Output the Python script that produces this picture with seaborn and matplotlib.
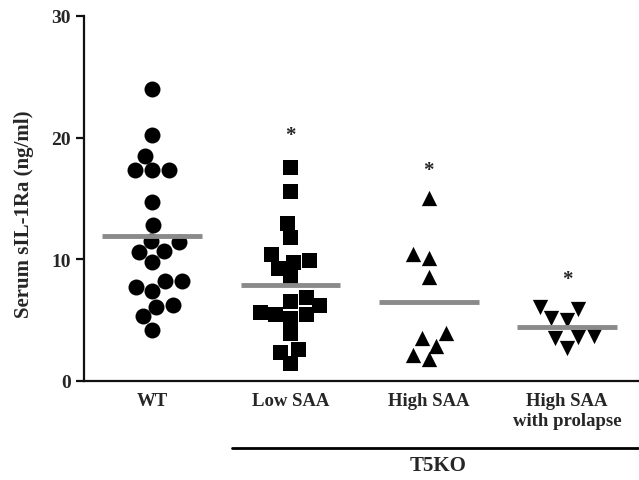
import matplotlib
matplotlib.use("Agg")
import matplotlib.pyplot as plt
from matplotlib.lines import Line2D
import numpy as np
import pandas as pd
import seaborn as sns

# Data (serum sIL-1Ra, ng/ml)
groups = ["WT", "Low SAA", "High SAA", "High SAA\nwith prolapse"]
wt = [24.0, 20.2, 18.5, 17.3, 17.3, 17.3, 14.7, 12.8, 11.5, 11.4, 10.7,
      10.6, 9.8, 8.2, 7.7, 8.2, 7.4, 6.2, 6.1, 5.3, 4.2]
low_saa = [17.6, 15.6, 13.0, 11.8, 10.4, 9.9, 9.3, 9.8, 8.5, 6.9, 6.2,
           6.6, 5.5, 5.7, 5.2, 5.5, 3.9, 2.6, 2.4, 1.5]
high_saa = [15.0, 10.4, 10.1, 8.5, 3.9, 3.5, 2.9, 2.1, 1.8]
high_saa_prolapse = [6.1, 5.9, 5.2, 5.0, 3.7, 3.6, 3.5, 2.7]
# significance stars (group, height)
star_groups = ["Low SAA", "High SAA", "High SAA\nwith prolapse"]
star_y = [20.2, 17.3, 8.4]

markers = ["o", "s", "^", "v"]
sizes = [11.5, 10.8, 11.0, 11.0]

df = pd.concat([
    pd.DataFrame({"group": g, "value": v})
    for g, v in zip(groups, [wt, low_saa, high_saa, high_saa_prolapse])
])

sns.set_theme(style="ticks")
plt.rcParams["font.family"] = ["Liberation Serif", "DejaVu Serif"]
plt.rcParams["font.weight"] = "bold"

fig = plt.figure(figsize=(6.39, 4.81), dpi=100)
ax = fig.add_axes([0.132, 0.206, 0.868, 0.759])

for g, m, s in zip(groups, markers, sizes):
    sub = df[df["group"] == g]
    sns.swarmplot(data=sub, x="group", y="value", order=groups, marker=m,
                  size=s, color="black", linewidth=0, ax=ax)

# mean lines
means = df.groupby("group", sort=False)["value"].mean()
for i, g in enumerate(groups):
    ax.hlines(means[g], i - 0.36, i + 0.36, color="#8a8a8a", lw=3.5, zorder=5)

for g, y in zip(star_groups, star_y):
    ax.text(groups.index(g), y, "*", ha="center", va="center",
            fontsize=15, fontweight="bold")

ax.set_xlim(-0.49, 3.52)
ax.set_ylim(0, 30)
ax.set_yticks([0, 10, 20, 30])
ax.set_xlabel("")
ax.set_ylabel("Serum sIL-1Ra (ng/ml)", fontsize=15, fontweight="bold")
ax.yaxis.set_label_coords(-0.09, 0.46)
sns.despine(ax=ax)
for sp in ["left", "bottom"]:
    ax.spines[sp].set_linewidth(1.6)
    ax.spines[sp].set_color("#111111")
ax.tick_params(axis="x", length=0, pad=8, labelsize=13.5)
ax.tick_params(axis="y", length=6, width=1.6, labelsize=14, color="#111111")
for lab in ax.get_xticklabels() + ax.get_yticklabels():
    lab.set_fontweight("bold")

# T5KO bracket
fig.add_artist(Line2D([232 / 639, 0.998], [1 - 449 / 481, 1 - 449 / 481],
                      transform=fig.transFigure, color="black", lw=2))
fig.text(438 / 639, 1 - 466 / 481, "T5KO", ha="center", va="center",
         fontsize=15, fontweight="bold")

fig.savefig("out.png", dpi=100)
